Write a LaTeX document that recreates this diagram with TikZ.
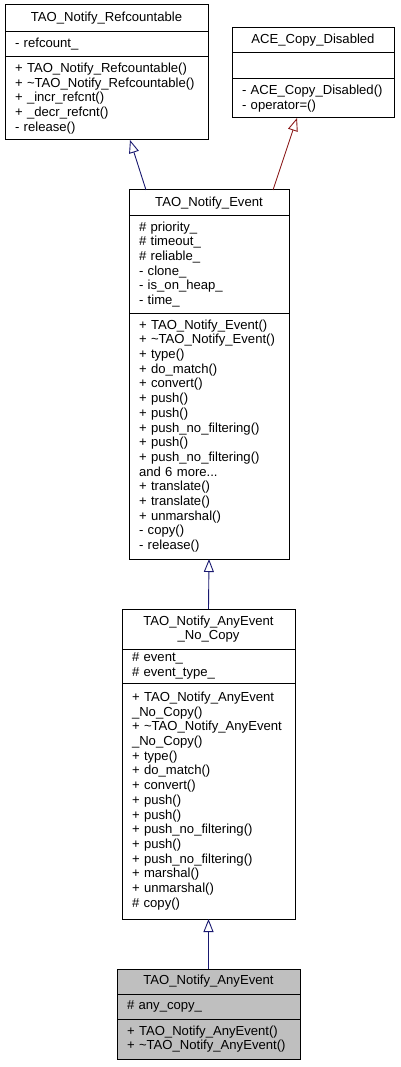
\documentclass[tikz,border=0pt]{standalone}
\usepackage{fontspec}
\setmainfont{Liberation Sans}
\usetikzlibrary{positioning}
\usetikzlibrary{arrows.meta}
\definecolor{edgeblue}{RGB}{25,25,112}
\definecolor{edgered}{RGB}{139,26,26}
\definecolor{focusgray}{RGB}{191,191,191}
\tikzset{part/.style={draw=black, line width=1pt, fill=white, inner xsep=10pt, inner ysep=2pt,
   outer sep=0pt, align=left, font=\fontsize{13.1}{14.7}\selectfont},
 head/.style={part, align=center},
 focus/.style={fill=focusgray},
 derive/.style={line width=0.9pt, -{Triangle[open, length=13pt, width=10pt]}},
 }

\begin{document}
\begin{tikzpicture}[x=1pt, y=1pt]
        \useasboundingbox (0,0) rectangle (400,-1067);
        % TAO_Notify_Refcountable
        \node[head, text width=183pt, minimum height=27pt, anchor=north west] (rc) at (5,-5) {TAO\_Notify\_Refcountable};
        \node[part, text width=183pt, minimum height=25pt, below=0pt of rc] (rcAttr) {- refcount\_};
        \node[part, text width=183pt, minimum height=83pt, below=0pt of rcAttr] (rcOps) {+ TAO\_Notify\_Refcountable()\\
            + \textasciitilde TAO\_Notify\_Refcountable()\\+ \_incr\_refcnt()\\+ \_decr\_refcnt()\\- release()};
        % ACE_Copy_Disabled
        \node[head, text width=142pt, minimum height=25pt, anchor=north west] (ac) at (232,-28) {ACE\_Copy\_Disabled};
        \node[part, text width=142pt, minimum height=26pt, below=0pt of ac] (acAttr) {};
        \node[part, text width=142pt, minimum height=39pt, below=0pt of acAttr] (acOps) {- ACE\_Copy\_Disabled()\\- operator=()};
        % TAO_Notify_Event
        \node[head, text width=140pt, minimum height=26pt, anchor=north west] (ev) at (129,-190) {TAO\_Notify\_Event};
        \node[part, text width=140pt, minimum height=97pt, below=0pt of ev] (evAttr) {\# priority\_\\\# timeout\_\\\# reliable\_\\
            - clone\_\\- is\_on\_heap\_\\- time\_};
        \node[part, text width=140pt, minimum height=246pt, below=0pt of evAttr] (evOps) {+ TAO\_Notify\_Event()\\
            + \textasciitilde TAO\_Notify\_Event()\\+ type()\\+ do\_match()\\+ convert()\\+ push()\\+ push()\\
            + push\_no\_filtering()\\+ push()\\+ push\_no\_filtering()\\and 6 more...\\+ translate()\\+ translate()\\
            + unmarshal()\\- copy()\\- release()};
        % TAO_Notify_AnyEvent_No_Copy
        \node[head, text width=153pt, minimum height=40pt, anchor=north west] (nc) at (122,-609) {TAO\_Notify\_AnyEvent\\\_No\_Copy};
        \node[part, text width=153pt, minimum height=34pt, below=0pt of nc] (ncAttr) {\# event\_\\\# event\_type\_};
        \node[part, text width=153pt, minimum height=236pt, below=0pt of ncAttr] (ncOps) {+ TAO\_Notify\_AnyEvent\\\_No\_Copy()\\
            + \textasciitilde TAO\_Notify\_AnyEvent\\\_No\_Copy()\\+ type()\\+ do\_match()\\+ convert()\\+ push()\\+ push()\\
            + push\_no\_filtering()\\+ push()\\+ push\_no\_filtering()\\+ marshal()\\+ unmarshal()\\\# copy()};
        % TAO_Notify_AnyEvent
        \node[head, focus, text width=163pt, minimum height=25pt, anchor=north west] (any) at (117,-969) {TAO\_Notify\_AnyEvent};
        \node[part, focus, text width=163pt, minimum height=25pt, below=0pt of any] (anyAttr) {\# any\_copy\_};
        \node[part, focus, text width=163pt, minimum height=40pt, below=0pt of anyAttr] (anyOps) {+ TAO\_Notify\_AnyEvent()\\
            + \textasciitilde TAO\_Notify\_AnyEvent()};
        % inheritance
        \draw[derive, edgeblue] ([xshift=-63pt]ev.north) -- ([xshift=23.5pt]rcOps.south);
        \draw[derive, edgered] ([xshift=64pt]ev.north) -- ([xshift=-16pt]acOps.south);
        \draw[derive, edgeblue] (nc.north) -- (evOps.south);
        \draw[derive, edgeblue] (any.north) -- (ncOps.south);
    \end{tikzpicture}
\end{document}
